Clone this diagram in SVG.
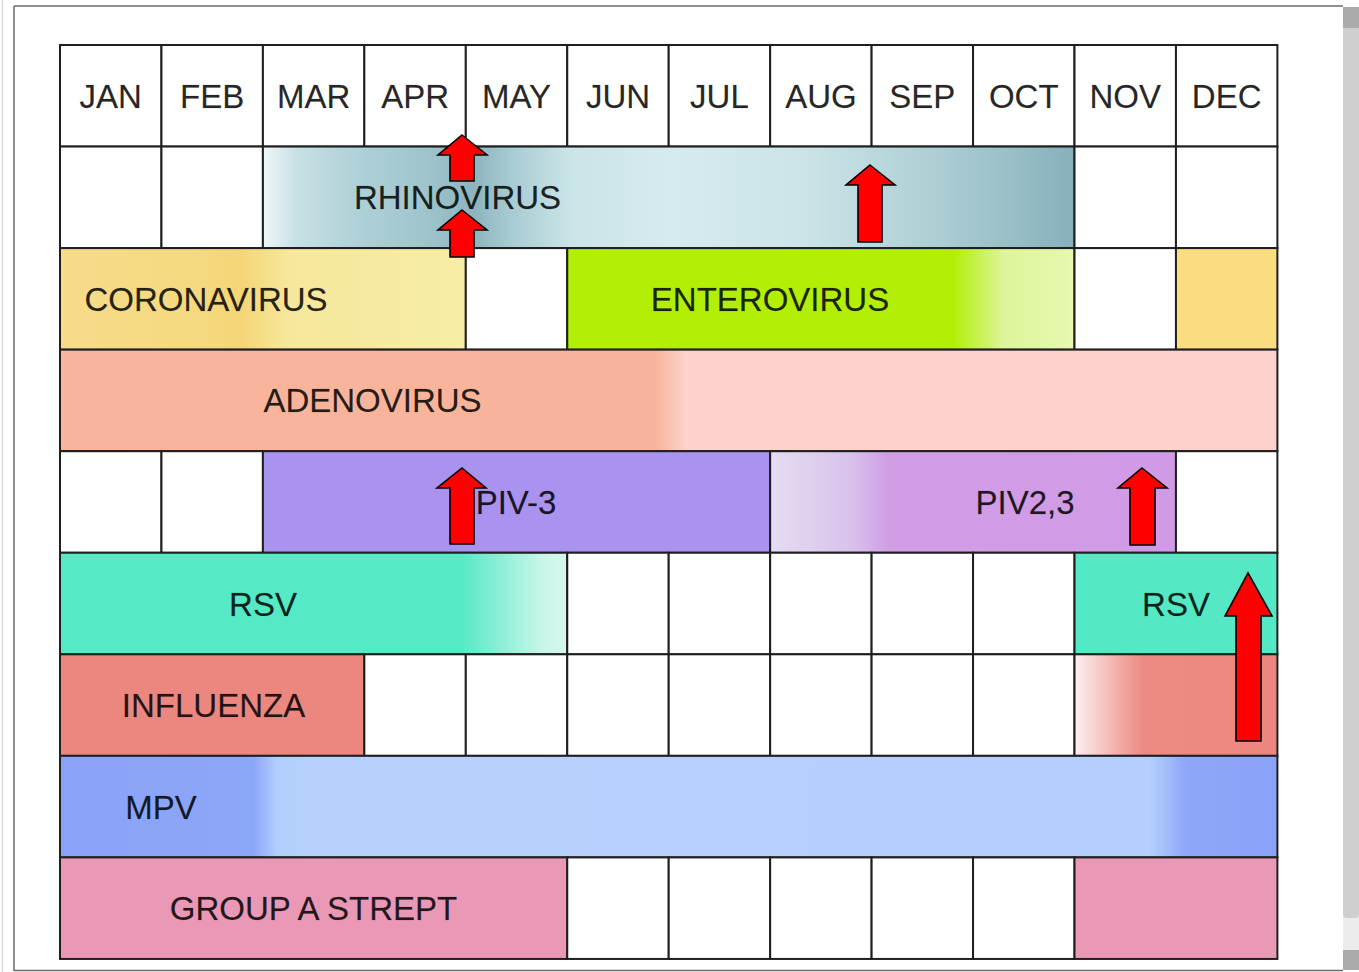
<svg xmlns="http://www.w3.org/2000/svg" width="1359" height="972" viewBox="0 0 1359 972">
<style>
.cell{stroke:#1f1f1f;stroke-width:2}
.w{fill:#ffffff}
.lbl{font-family:"Liberation Sans",Arial,sans-serif;font-size:33px;fill:#000;fill-opacity:0.86;stroke:#000;stroke-opacity:0.35;stroke-width:0.4;text-anchor:middle}
.arrow{fill:#ff0000;stroke:#000;stroke-width:1.6;stroke-linejoin:miter}
</style>
<defs>
<linearGradient id="gRhino" x1="0" y1="0" x2="1" y2="0">
<stop offset="0" stop-color="#f0f7f8"/><stop offset="0.04" stop-color="#c8e1e5"/><stop offset="0.1" stop-color="#b2d4da"/>
<stop offset="0.2" stop-color="#9fc4cc"/><stop offset="0.26" stop-color="#8db4be"/><stop offset="0.31" stop-color="#a9cdd4"/>
<stop offset="0.38" stop-color="#cbe4e7"/><stop offset="0.5" stop-color="#d6ebed"/><stop offset="0.65" stop-color="#cde5e8"/>
<stop offset="0.75" stop-color="#bcdade"/><stop offset="0.88" stop-color="#a2c6cd"/><stop offset="1" stop-color="#87b0bb"/>
</linearGradient>
<linearGradient id="gCorona" x1="0" y1="0" x2="1" y2="0">
<stop offset="0" stop-color="#f6dc8a"/><stop offset="0.35" stop-color="#f5d97f"/><stop offset="0.45" stop-color="#f4d677"/>
<stop offset="0.56" stop-color="#f6e79c"/><stop offset="1" stop-color="#f7eda4"/>
</linearGradient>
<linearGradient id="gEntero" x1="0" y1="0" x2="1" y2="0">
<stop offset="0" stop-color="#b2ee06"/><stop offset="0.76" stop-color="#b2ee06"/><stop offset="0.86" stop-color="#dcf59a"/><stop offset="1" stop-color="#e8f8b0"/>
</linearGradient>
<linearGradient id="gAdeno" x1="0" y1="0" x2="1" y2="0">
<stop offset="0" stop-color="#f9b59c"/><stop offset="0.489" stop-color="#f8b49a"/><stop offset="0.514" stop-color="#fdd2cc"/><stop offset="1" stop-color="#fdd2cc"/>
</linearGradient>
<linearGradient id="gPiv23" x1="0" y1="0" x2="1" y2="0">
<stop offset="0" stop-color="#e6dcf3"/><stop offset="0.12" stop-color="#dccdee"/><stop offset="0.2" stop-color="#d8c2ec"/>
<stop offset="0.29" stop-color="#d19ee6"/><stop offset="1" stop-color="#d19ae6"/>
</linearGradient>
<linearGradient id="gRsv" x1="0" y1="0" x2="1" y2="0">
<stop offset="0" stop-color="#55e9c5"/><stop offset="0.79" stop-color="#55e9c5"/><stop offset="0.88" stop-color="#94f0d8"/>
<stop offset="0.95" stop-color="#c8f5e9"/><stop offset="1" stop-color="#d5f8ef"/>
</linearGradient>
<linearGradient id="gFlu" x1="0" y1="0" x2="1" y2="0">
<stop offset="0" stop-color="#fdf0f0"/><stop offset="0.13" stop-color="#f6c8c5"/><stop offset="0.26" stop-color="#efa09a"/>
<stop offset="0.34" stop-color="#ec8a83"/><stop offset="1" stop-color="#ec8780"/>
</linearGradient>
<linearGradient id="gMpv" x1="0" y1="0" x2="1" y2="0">
<stop offset="0" stop-color="#8aa3f8"/><stop offset="0.159" stop-color="#8ca6f8"/><stop offset="0.178" stop-color="#b2cefc"/>
<stop offset="0.2" stop-color="#b6d1fc"/><stop offset="0.895" stop-color="#b4cffc"/><stop offset="0.925" stop-color="#8ea7f8"/><stop offset="1" stop-color="#8aa2f8"/>
</linearGradient>
</defs>
<rect x="0" y="0" width="1359" height="972" fill="#ffffff"/>
<g id="frame">
<line x1="2.5" y1="0" x2="2.5" y2="972" stroke="#d8d8d8" stroke-width="1.5"/>
<line x1="14" y1="6" x2="14" y2="971" stroke="#6a6a6a" stroke-width="1.5"/>
<line x1="14" y1="6" x2="1343" y2="6" stroke="#6a6a6a" stroke-width="1.5"/>
<line x1="14" y1="970.5" x2="1343" y2="970.5" stroke="#6a6a6a" stroke-width="1.5"/>
<rect x="1343" y="7" width="16" height="963" fill="#ececec"/>
<rect x="1343" y="7" width="16" height="911" rx="4" fill="#cfcfcf"/>
<rect x="1343" y="7" width="16" height="21" fill="#ababab"/>
<rect x="1343" y="950" width="16" height="20" fill="#ababab"/>
</g>
<g id="header">
<rect class="cell w" x="60" y="45" width="101.45" height="101.55"/>
<rect class="cell w" x="161.45" y="45" width="101.45" height="101.55"/>
<rect class="cell w" x="262.9" y="45" width="101.45" height="101.55"/>
<rect class="cell w" x="364.35" y="45" width="101.45" height="101.55"/>
<rect class="cell w" x="465.8" y="45" width="101.45" height="101.55"/>
<rect class="cell w" x="567.25" y="45" width="101.45" height="101.55"/>
<rect class="cell w" x="668.7" y="45" width="101.45" height="101.55"/>
<rect class="cell w" x="770.15" y="45" width="101.45" height="101.55"/>
<rect class="cell w" x="871.6" y="45" width="101.45" height="101.55"/>
<rect class="cell w" x="973.05" y="45" width="101.45" height="101.55"/>
<rect class="cell w" x="1074.5" y="45" width="101.45" height="101.55"/>
<rect class="cell w" x="1175.95" y="45" width="101.45" height="101.55"/>
<text class="lbl" x="110.7" y="108">JAN</text>
<text class="lbl" x="212.2" y="108">FEB</text>
<text class="lbl" x="313.6" y="108">MAR</text>
<text class="lbl" x="415.1" y="108">APR</text>
<text class="lbl" x="516.5" y="108">MAY</text>
<text class="lbl" x="618" y="108">JUN</text>
<text class="lbl" x="719.4" y="108">JUL</text>
<text class="lbl" x="820.9" y="108">AUG</text>
<text class="lbl" x="922.3" y="108">SEP</text>
<text class="lbl" x="1023.8" y="108">OCT</text>
<text class="lbl" x="1125.2" y="108">NOV</text>
<text class="lbl" x="1226.7" y="108">DEC</text>
</g>
<g id="row-rhinovirus">
<rect class="cell w" x="60" y="146.55" width="101.45" height="101.55"/>
<rect class="cell w" x="161.45" y="146.55" width="101.45" height="101.55"/>
<rect class="cell" x="262.9" y="146.55" width="811.6" height="101.55" fill="url(#gRhino)"/>
<rect class="cell w" x="1074.5" y="146.55" width="101.45" height="101.55"/>
<rect class="cell w" x="1175.95" y="146.55" width="101.45" height="101.55"/>
<text class="lbl" x="457.5" y="209.3">RHINOVIRUS</text>
</g>
<g id="row-corona-entero">
<rect class="cell" x="60" y="248.1" width="405.8" height="101.55" fill="url(#gCorona)"/>
<rect class="cell w" x="465.8" y="248.1" width="101.45" height="101.55"/>
<rect class="cell" x="567.25" y="248.1" width="507.25" height="101.55" fill="url(#gEntero)"/>
<rect class="cell w" x="1074.5" y="248.1" width="101.45" height="101.55"/>
<rect class="cell" x="1175.95" y="248.1" width="101.45" height="101.55" fill="#f9dd80"/>
<text class="lbl" x="206" y="311">CORONAVIRUS</text>
<text class="lbl" x="770" y="311">ENTEROVIRUS</text>
</g>
<g id="row-adenovirus">
<rect class="cell" x="60" y="349.65" width="1217.4" height="101.55" fill="url(#gAdeno)"/>
<text class="lbl" x="372.5" y="412.4">ADENOVIRUS</text>
</g>
<g id="row-piv">
<rect class="cell w" x="60" y="451.2" width="101.45" height="101.55"/>
<rect class="cell w" x="161.45" y="451.2" width="101.45" height="101.55"/>
<rect class="cell" x="262.9" y="451.2" width="507.25" height="101.55" fill="#a993ee"/>
<rect class="cell" x="770.15" y="451.2" width="405.8" height="101.55" fill="url(#gPiv23)"/>
<rect class="cell w" x="1175.95" y="451.2" width="101.45" height="101.55"/>
<text class="lbl" x="516" y="514">PIV-3</text>
<text class="lbl" x="1025" y="514">PIV2,3</text>
</g>
<g id="row-rsv">
<rect class="cell" x="60" y="552.75" width="507.25" height="101.55" fill="url(#gRsv)"/>
<rect class="cell w" x="567.25" y="552.75" width="101.45" height="101.55"/>
<rect class="cell w" x="668.7" y="552.75" width="101.45" height="101.55"/>
<rect class="cell w" x="770.15" y="552.75" width="101.45" height="101.55"/>
<rect class="cell w" x="871.6" y="552.75" width="101.45" height="101.55"/>
<rect class="cell w" x="973.05" y="552.75" width="101.45" height="101.55"/>
<rect class="cell" x="1074.5" y="552.75" width="202.9" height="101.55" fill="#55e8c5"/>
<text class="lbl" x="263" y="615.5">RSV</text>
<text class="lbl" x="1176" y="615.5">RSV</text>
</g>
<g id="row-influenza">
<rect class="cell" x="60" y="654.3" width="304.35" height="101.55" fill="#ec8780"/>
<rect class="cell w" x="364.35" y="654.3" width="101.45" height="101.55"/>
<rect class="cell w" x="465.8" y="654.3" width="101.45" height="101.55"/>
<rect class="cell w" x="567.25" y="654.3" width="101.45" height="101.55"/>
<rect class="cell w" x="668.7" y="654.3" width="101.45" height="101.55"/>
<rect class="cell w" x="770.15" y="654.3" width="101.45" height="101.55"/>
<rect class="cell w" x="871.6" y="654.3" width="101.45" height="101.55"/>
<rect class="cell w" x="973.05" y="654.3" width="101.45" height="101.55"/>
<rect class="cell" x="1074.5" y="654.3" width="202.9" height="101.55" fill="url(#gFlu)"/>
<text class="lbl" x="213.5" y="717">INFLUENZA</text>
</g>
<g id="row-mpv">
<rect class="cell" x="60" y="755.85" width="1217.4" height="101.55" fill="url(#gMpv)"/>
<text class="lbl" x="161" y="818.6">MPV</text>
</g>
<g id="row-strept">
<rect class="cell" x="60" y="857.4" width="507.25" height="101.55" fill="#e998b6"/>
<rect class="cell w" x="567.25" y="857.4" width="101.45" height="101.55"/>
<rect class="cell w" x="668.7" y="857.4" width="101.45" height="101.55"/>
<rect class="cell w" x="770.15" y="857.4" width="101.45" height="101.55"/>
<rect class="cell w" x="871.6" y="857.4" width="101.45" height="101.55"/>
<rect class="cell w" x="973.05" y="857.4" width="101.45" height="101.55"/>
<rect class="cell" x="1074.5" y="857.4" width="202.9" height="101.55" fill="#e998b6"/>
<text class="lbl" x="313.5" y="920">GROUP A STREPT</text>
</g>
<g id="arrows">
<polygon class="arrow" points="462,135 487,155 474,155 474,181 450,181 450,155 438,155"/>
<polygon class="arrow" points="462,210 487,230 474,230 474,257 450,257 450,230 438,230"/>
<polygon class="arrow" points="870,165 895,185 882,185 882,242 858,242 858,185 846,185"/>
<polygon class="arrow" points="462,468 486,488 474,488 474,544 450,544 450,488 437,488"/>
<polygon class="arrow" points="1142,468 1167,488 1155,488 1155,545 1130,545 1130,488 1118,488"/>
<polygon class="arrow" points="1248,573 1272,616 1261,616 1261,741 1236,741 1236,616 1225,616"/>
</g>
</svg>
